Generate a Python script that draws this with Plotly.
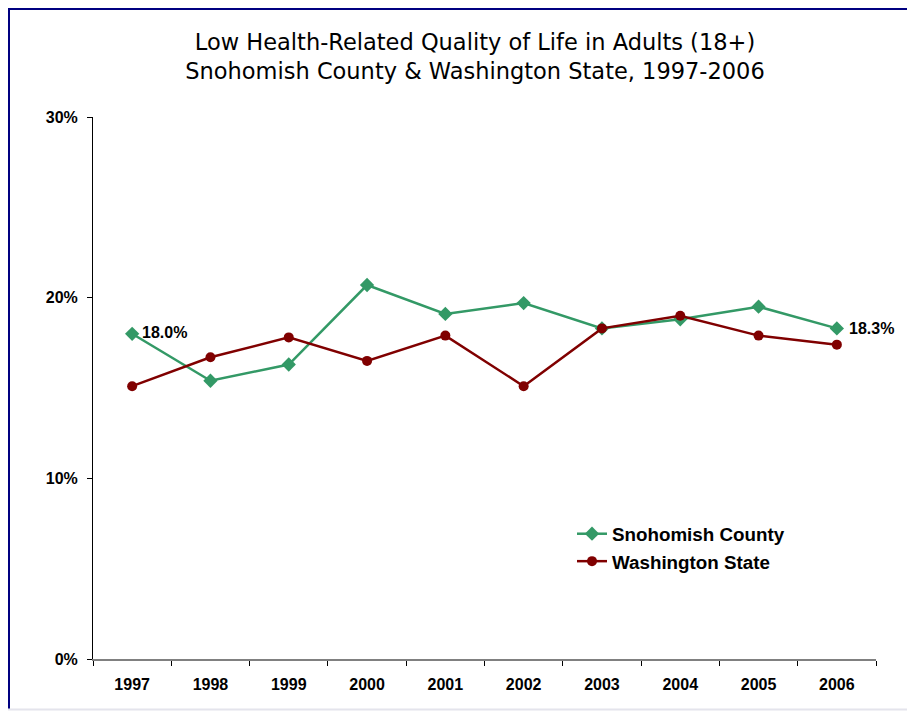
import plotly.graph_objects as go

years = ["1997", "1998", "1999", "2000", "2001", "2002", "2003", "2004", "2005", "2006"]
snohomish = [18.0, 15.4, 16.3, 20.7, 19.1, 19.7, 18.3, 18.8, 19.5, 18.3]
washington = [15.1, 16.7, 17.8, 16.5, 17.9, 15.1, 18.3, 19.0, 17.9, 17.4]
y_ticks = [0, 10, 20, 30]
y_tick_labels = ["0%", "10%", "20%", "30%"]

green = "#339966"
red = "#800000"

# page body has an 8px margin; figure is sized/offset to compensate
W, H = 907, 703
L, T = 85, 109
PW, PH = 783, 542

def px(xf):
    return (xf - L) / PW

def py(yf):
    return (T + PH - yf) / PH

fig = go.Figure()
fig.add_trace(go.Scatter(
    x=years, y=snohomish, name="Snohomish County", mode="lines+markers",
    line=dict(color=green, width=2.5),
    marker=dict(symbol="diamond", size=11, color=green),
    cliponaxis=False,
))
fig.add_trace(go.Scatter(
    x=years, y=washington, name="Washington State", mode="lines+markers",
    line=dict(color=red, width=2.5),
    marker=dict(symbol="circle", size=10, color=red),
    cliponaxis=False,
))

lab_font = dict(family="Liberation Sans, Arial", size=16, color="#000000", weight="bold")
fig.add_annotation(x=0, y=snohomish[0], xref="x", yref="y", text=f"{snohomish[0]:.1f}%",
                   showarrow=False, xanchor="left", xshift=8, yshift=1, font=lab_font)
fig.add_annotation(x=len(years) - 1, y=snohomish[-1], xref="x", yref="y", text=f"{snohomish[-1]:.1f}%",
                   showarrow=False, xanchor="left", xshift=10, yshift=0, font=lab_font)

# frame lines
fig.add_shape(type="line", xref="paper", yref="paper",
              x0=px(1), x1=px(1), y0=py(1), y1=py(701),
              line=dict(color="#000080", width=2))
fig.add_shape(type="line", xref="paper", yref="paper",
              x0=px(0), x1=px(W + 5), y0=py(1), y1=py(1),
              line=dict(color="#000080", width=2))
fig.add_shape(type="line", xref="paper", yref="paper",
              x0=px(0), x1=px(W + 5), y0=py(701.5), y1=py(701.5),
              line=dict(color="#E4E4EC", width=2))

tick_font = dict(family="Liberation Sans, Arial", size=16, color="#000000", weight="bold")

fig.update_layout(
    width=W, height=H,
    margin=dict(l=L, r=W - L - PW, t=T, b=H - T - PH),
    paper_bgcolor="white", plot_bgcolor="white",
    title=dict(
        text="Low Health-Related Quality of Life in Adults (18+)<br>Snohomish County & Washington State, 1997-2006",
        xref="container", yref="container", x=467 / W, xanchor="center",
        y=1 - 42 / H, yanchor="middle",
        font=dict(family="DejaVu Sans", size=22.5, color="#000000"),
    ),
    showlegend=True,
    legend=dict(
        x=px(564), y=py(507), xanchor="left", yanchor="top",
        font=dict(family="Liberation Sans, Arial", size=18.8, color="#000000", weight="bold"),
        bgcolor="rgba(0,0,0,0)", itemwidth=30, tracegroupgap=0,
    ),
    xaxis=dict(
        type="category", range=[-0.5, 9.5], showgrid=False,
        showline=True, linecolor="#808080", linewidth=2,
        ticks="outside", tickson="boundaries", ticklen=5, tickcolor="#000000", tickwidth=1,
        tickfont=tick_font, ticklabelstandoff=10, zeroline=False,
    ),
    yaxis=dict(
        range=[0, 30], tickvals=y_ticks, ticktext=y_tick_labels, showgrid=False,
        showline=True, linecolor="#000000", linewidth=1,
        ticks="outside", ticklen=5, tickcolor="#000000",
        tickfont=tick_font, ticklabelstandoff=6, zeroline=False,
    ),
    font=dict(family="Liberation Sans, Arial"),
)

fig.write_html("out.html")
